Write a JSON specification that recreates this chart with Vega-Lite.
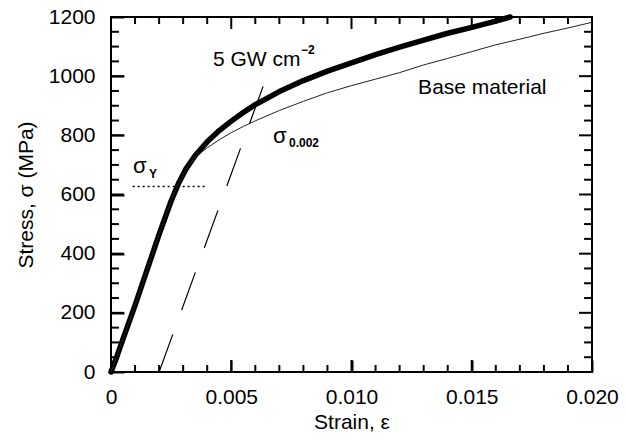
{
  "$schema": "https://vega.github.io/schema/vega-lite/v6.json",
  "autosize": {"type": "none"},
  "padding": {"left": 111, "top": 17, "right": 36, "bottom": 72},
  "width": 481,
  "height": 355,
  "background": "white",
  "config": {
    "view": {"stroke": "black", "strokeWidth": 2},
    "font": "Liberation Sans",
    "axis": {"zindex": 1, "grid": false, "domain": false, "ticks": true, "tickColor": "black", "tickWidth": 2, "tickOpacity": 1, "labelColor": "black", "titleColor": "black", "labelFont": "Liberation Sans", "titleFont": "Liberation Sans", "labelFontSize": 21, "titleFontSize": 21, "titleFontWeight": "normal", "labelOverlap": false, "labelFlush": false}
  },
  "datasets": {
    "laser": [
      {"strain": 0, "stress": 0}, {"strain": 0.0002, "stress": 42}, {"strain": 0.0005, "stress": 112},
      {"strain": 0.001, "stress": 225}, {"strain": 0.0015, "stress": 345}, {"strain": 0.002, "stress": 465},
      {"strain": 0.0025, "stress": 578}, {"strain": 0.0028, "stress": 636}, {"strain": 0.0031, "stress": 684},
      {"strain": 0.0035, "stress": 732}, {"strain": 0.004, "stress": 778}, {"strain": 0.0045, "stress": 816},
      {"strain": 0.005, "stress": 848}, {"strain": 0.0055, "stress": 877}, {"strain": 0.006, "stress": 904},
      {"strain": 0.007, "stress": 948}, {"strain": 0.008, "stress": 985}, {"strain": 0.009, "stress": 1017},
      {"strain": 0.01, "stress": 1045}, {"strain": 0.011, "stress": 1073}, {"strain": 0.012, "stress": 1098},
      {"strain": 0.013, "stress": 1122}, {"strain": 0.014, "stress": 1145}, {"strain": 0.015, "stress": 1165},
      {"strain": 0.016, "stress": 1186}, {"strain": 0.0166, "stress": 1200}
    ],
    "base": [
      {"strain": 0, "stress": 0}, {"strain": 0.001, "stress": 225}, {"strain": 0.002, "stress": 465},
      {"strain": 0.0025, "stress": 578}, {"strain": 0.0028, "stress": 636}, {"strain": 0.0031, "stress": 682},
      {"strain": 0.0035, "stress": 726}, {"strain": 0.004, "stress": 758}, {"strain": 0.0045, "stress": 785},
      {"strain": 0.005, "stress": 809}, {"strain": 0.0055, "stress": 830}, {"strain": 0.006, "stress": 849},
      {"strain": 0.007, "stress": 884}, {"strain": 0.008, "stress": 915}, {"strain": 0.009, "stress": 944},
      {"strain": 0.01, "stress": 968}, {"strain": 0.011, "stress": 990}, {"strain": 0.012, "stress": 1012},
      {"strain": 0.013, "stress": 1038}, {"strain": 0.014, "stress": 1060}, {"strain": 0.015, "stress": 1083},
      {"strain": 0.016, "stress": 1106}, {"strain": 0.017, "stress": 1125}, {"strain": 0.018, "stress": 1145},
      {"strain": 0.019, "stress": 1163}, {"strain": 0.02, "stress": 1182}
    ],
    "offset": [{"strain": 0.002, "stress": 0}, {"strain": 0.00633, "stress": 967}],
    "yield": [{"strain": 0.0009, "stress": 627}, {"strain": 0.0039, "stress": 627}],
    "xticks": [
      {"k": "b5", "strain": 0.005, "stress": 0}, {"k": "b5", "strain": 0.005, "stress": 40.6},
      {"k": "b10", "strain": 0.01, "stress": 0}, {"k": "b10", "strain": 0.01, "stress": 40.6},
      {"k": "b15", "strain": 0.015, "stress": 0}, {"k": "b15", "strain": 0.015, "stress": 40.6},
      {"k": "t5", "strain": 0.005, "stress": 1200}, {"k": "t5", "strain": 0.005, "stress": 1159.4},
      {"k": "t10", "strain": 0.01, "stress": 1200}, {"k": "t10", "strain": 0.01, "stress": 1159.4},
      {"k": "t15", "strain": 0.015, "stress": 1200}, {"k": "t15", "strain": 0.015, "stress": 1159.4},
      {"k": "b1", "strain": 0.001, "stress": 0}, {"k": "b1", "strain": 0.001, "stress": 23.7},
      {"k": "b2", "strain": 0.002, "stress": 0}, {"k": "b2", "strain": 0.002, "stress": 23.7},
      {"k": "b3", "strain": 0.003, "stress": 0}, {"k": "b3", "strain": 0.003, "stress": 23.7},
      {"k": "b4", "strain": 0.004, "stress": 0}, {"k": "b4", "strain": 0.004, "stress": 23.7},
      {"k": "b6", "strain": 0.006, "stress": 0}, {"k": "b6", "strain": 0.006, "stress": 23.7},
      {"k": "b7", "strain": 0.007, "stress": 0}, {"k": "b7", "strain": 0.007, "stress": 23.7},
      {"k": "b8", "strain": 0.008, "stress": 0}, {"k": "b8", "strain": 0.008, "stress": 23.7},
      {"k": "b9", "strain": 0.009, "stress": 0}, {"k": "b9", "strain": 0.009, "stress": 23.7},
      {"k": "b11", "strain": 0.011, "stress": 0}, {"k": "b11", "strain": 0.011, "stress": 23.7},
      {"k": "b12", "strain": 0.012, "stress": 0}, {"k": "b12", "strain": 0.012, "stress": 23.7},
      {"k": "b13", "strain": 0.013, "stress": 0}, {"k": "b13", "strain": 0.013, "stress": 23.7},
      {"k": "b14", "strain": 0.014, "stress": 0}, {"k": "b14", "strain": 0.014, "stress": 23.7},
      {"k": "b16", "strain": 0.016, "stress": 0}, {"k": "b16", "strain": 0.016, "stress": 23.7},
      {"k": "b17", "strain": 0.017, "stress": 0}, {"k": "b17", "strain": 0.017, "stress": 23.7},
      {"k": "b18", "strain": 0.018, "stress": 0}, {"k": "b18", "strain": 0.018, "stress": 23.7},
      {"k": "b19", "strain": 0.019, "stress": 0}, {"k": "b19", "strain": 0.019, "stress": 23.7},
      {"k": "t1", "strain": 0.001, "stress": 1200}, {"k": "t1", "strain": 0.001, "stress": 1176.3},
      {"k": "t2", "strain": 0.002, "stress": 1200}, {"k": "t2", "strain": 0.002, "stress": 1176.3},
      {"k": "t3", "strain": 0.003, "stress": 1200}, {"k": "t3", "strain": 0.003, "stress": 1176.3},
      {"k": "t4", "strain": 0.004, "stress": 1200}, {"k": "t4", "strain": 0.004, "stress": 1176.3},
      {"k": "t6", "strain": 0.006, "stress": 1200}, {"k": "t6", "strain": 0.006, "stress": 1176.3},
      {"k": "t7", "strain": 0.007, "stress": 1200}, {"k": "t7", "strain": 0.007, "stress": 1176.3},
      {"k": "t8", "strain": 0.008, "stress": 1200}, {"k": "t8", "strain": 0.008, "stress": 1176.3},
      {"k": "t9", "strain": 0.009, "stress": 1200}, {"k": "t9", "strain": 0.009, "stress": 1176.3},
      {"k": "t11", "strain": 0.011, "stress": 1200}, {"k": "t11", "strain": 0.011, "stress": 1176.3},
      {"k": "t12", "strain": 0.012, "stress": 1200}, {"k": "t12", "strain": 0.012, "stress": 1176.3},
      {"k": "t13", "strain": 0.013, "stress": 1200}, {"k": "t13", "strain": 0.013, "stress": 1176.3},
      {"k": "t14", "strain": 0.014, "stress": 1200}, {"k": "t14", "strain": 0.014, "stress": 1176.3},
      {"k": "t16", "strain": 0.016, "stress": 1200}, {"k": "t16", "strain": 0.016, "stress": 1176.3},
      {"k": "t17", "strain": 0.017, "stress": 1200}, {"k": "t17", "strain": 0.017, "stress": 1176.3},
      {"k": "t18", "strain": 0.018, "stress": 1200}, {"k": "t18", "strain": 0.018, "stress": 1176.3},
      {"k": "t19", "strain": 0.019, "stress": 1200}, {"k": "t19", "strain": 0.019, "stress": 1176.3}
    ],
    "yticks": [
      {"k": "l200", "stress": 200, "strain": 0}, {"k": "l200", "stress": 200, "strain": 0.00054},
      {"k": "l400", "stress": 400, "strain": 0}, {"k": "l400", "stress": 400, "strain": 0.00054},
      {"k": "l600", "stress": 600, "strain": 0}, {"k": "l600", "stress": 600, "strain": 0.00054},
      {"k": "l800", "stress": 800, "strain": 0}, {"k": "l800", "stress": 800, "strain": 0.00054},
      {"k": "l1000", "stress": 1000, "strain": 0}, {"k": "l1000", "stress": 1000, "strain": 0.00054},
      {"k": "r200", "stress": 200, "strain": 0.02}, {"k": "r200", "stress": 200, "strain": 0.01946},
      {"k": "r400", "stress": 400, "strain": 0.02}, {"k": "r400", "stress": 400, "strain": 0.01946},
      {"k": "r600", "stress": 600, "strain": 0.02}, {"k": "r600", "stress": 600, "strain": 0.01946},
      {"k": "r800", "stress": 800, "strain": 0.02}, {"k": "r800", "stress": 800, "strain": 0.01946},
      {"k": "r1000", "stress": 1000, "strain": 0.02}, {"k": "r1000", "stress": 1000, "strain": 0.01946},
      {"k": "l50", "stress": 50, "strain": 0}, {"k": "l50", "stress": 50, "strain": 0.00033},
      {"k": "l100", "stress": 100, "strain": 0}, {"k": "l100", "stress": 100, "strain": 0.00033},
      {"k": "l150", "stress": 150, "strain": 0}, {"k": "l150", "stress": 150, "strain": 0.00033},
      {"k": "l250", "stress": 250, "strain": 0}, {"k": "l250", "stress": 250, "strain": 0.00033},
      {"k": "l300", "stress": 300, "strain": 0}, {"k": "l300", "stress": 300, "strain": 0.00033},
      {"k": "l350", "stress": 350, "strain": 0}, {"k": "l350", "stress": 350, "strain": 0.00033},
      {"k": "l450", "stress": 450, "strain": 0}, {"k": "l450", "stress": 450, "strain": 0.00033},
      {"k": "l500", "stress": 500, "strain": 0}, {"k": "l500", "stress": 500, "strain": 0.00033},
      {"k": "l550", "stress": 550, "strain": 0}, {"k": "l550", "stress": 550, "strain": 0.00033},
      {"k": "l650", "stress": 650, "strain": 0}, {"k": "l650", "stress": 650, "strain": 0.00033},
      {"k": "l700", "stress": 700, "strain": 0}, {"k": "l700", "stress": 700, "strain": 0.00033},
      {"k": "l750", "stress": 750, "strain": 0}, {"k": "l750", "stress": 750, "strain": 0.00033},
      {"k": "l850", "stress": 850, "strain": 0}, {"k": "l850", "stress": 850, "strain": 0.00033},
      {"k": "l900", "stress": 900, "strain": 0}, {"k": "l900", "stress": 900, "strain": 0.00033},
      {"k": "l950", "stress": 950, "strain": 0}, {"k": "l950", "stress": 950, "strain": 0.00033},
      {"k": "l1050", "stress": 1050, "strain": 0}, {"k": "l1050", "stress": 1050, "strain": 0.00033},
      {"k": "l1100", "stress": 1100, "strain": 0}, {"k": "l1100", "stress": 1100, "strain": 0.00033},
      {"k": "l1150", "stress": 1150, "strain": 0}, {"k": "l1150", "stress": 1150, "strain": 0.00033},
      {"k": "r50", "stress": 50, "strain": 0.02}, {"k": "r50", "stress": 50, "strain": 0.01967},
      {"k": "r100", "stress": 100, "strain": 0.02}, {"k": "r100", "stress": 100, "strain": 0.01967},
      {"k": "r150", "stress": 150, "strain": 0.02}, {"k": "r150", "stress": 150, "strain": 0.01967},
      {"k": "r250", "stress": 250, "strain": 0.02}, {"k": "r250", "stress": 250, "strain": 0.01967},
      {"k": "r300", "stress": 300, "strain": 0.02}, {"k": "r300", "stress": 300, "strain": 0.01967},
      {"k": "r350", "stress": 350, "strain": 0.02}, {"k": "r350", "stress": 350, "strain": 0.01967},
      {"k": "r450", "stress": 450, "strain": 0.02}, {"k": "r450", "stress": 450, "strain": 0.01967},
      {"k": "r500", "stress": 500, "strain": 0.02}, {"k": "r500", "stress": 500, "strain": 0.01967},
      {"k": "r550", "stress": 550, "strain": 0.02}, {"k": "r550", "stress": 550, "strain": 0.01967},
      {"k": "r650", "stress": 650, "strain": 0.02}, {"k": "r650", "stress": 650, "strain": 0.01967},
      {"k": "r700", "stress": 700, "strain": 0.02}, {"k": "r700", "stress": 700, "strain": 0.01967},
      {"k": "r750", "stress": 750, "strain": 0.02}, {"k": "r750", "stress": 750, "strain": 0.01967},
      {"k": "r850", "stress": 850, "strain": 0.02}, {"k": "r850", "stress": 850, "strain": 0.01967},
      {"k": "r900", "stress": 900, "strain": 0.02}, {"k": "r900", "stress": 900, "strain": 0.01967},
      {"k": "r950", "stress": 950, "strain": 0.02}, {"k": "r950", "stress": 950, "strain": 0.01967},
      {"k": "r1050", "stress": 1050, "strain": 0.02}, {"k": "r1050", "stress": 1050, "strain": 0.01967},
      {"k": "r1100", "stress": 1100, "strain": 0.02}, {"k": "r1100", "stress": 1100, "strain": 0.01967},
      {"k": "r1150", "stress": 1150, "strain": 0.02}, {"k": "r1150", "stress": 1150, "strain": 0.01967}
    ],
    "ann": [
      {"t": "5 GW cm", "strain": 0.00424, "stress": 1034},
      {"t": "Base material", "strain": 0.01277, "stress": 940}
    ],
    "sigma": [
      {"t": "σ", "strain": 0.00091, "stress": 673},
      {"t": "σ", "strain": 0.00674, "stress": 774}
    ],
    "annsub": [
      {"t": "−2", "strain": 0.0079, "stress": 1075},
      {"t": "Y", "strain": 0.00158, "stress": 656},
      {"t": "0.002", "strain": 0.0074, "stress": 761}
    ]
  },
  "resolve": {"axis": {"x": "independent", "y": "independent"}},
  "layer": [
    {
      "data": {"name": "laser"},
      "mark": {"type": "line", "color": "black", "strokeWidth": 5.5, "strokeCap": "round", "strokeJoin": "round"},
      "encoding": {
        "x": {"field": "strain", "type": "quantitative", "scale": {"domain": [0, 0.02], "nice": false, "zero": false},
          "axis": {"orient": "bottom", "offset": -12, "tickSize": 12, "title": "Strain, ε", "titleY": 68, "titleBaseline": "alphabetic",
            "values": [0, 0.005, 0.01, 0.015, 0.02],
            "labelExpr": "datum.value == 0 ? '0' : format(datum.value, '.3f')",
            "labelBaseline": "alphabetic", "labelPadding": 31}},
        "y": {"field": "stress", "type": "quantitative", "scale": {"domain": [0, 1200], "nice": false},
          "axis": {"orient": "left", "offset": -13, "tickSize": 13, "title": "Stress, σ (MPa)", "titleX": -92, "titleY": 177.5, "titleBaseline": "alphabetic", "titleAngle": -90,
            "values": [0, 200, 400, 600, 800, 1000, 1200],
            "labelExpr": "format(datum.value, 'd')",
            "labelPadding": 16}}
      }
    },
    {
      "data": {"name": "base"},
      "mark": {"type": "line", "color": "#222222", "strokeWidth": 1},
      "encoding": {
        "x": {"field": "strain", "type": "quantitative", "axis": null},
        "y": {"field": "stress", "type": "quantitative", "axis": null}
      }
    },
    {
      "data": {"name": "offset"},
      "mark": {"type": "line", "color": "black", "strokeWidth": 1.2, "strokeDash": [40, 26]},
      "encoding": {
        "x": {"field": "strain", "type": "quantitative", "axis": null},
        "y": {"field": "stress", "type": "quantitative", "axis": null}
      }
    },
    {
      "data": {"name": "yield"},
      "mark": {"type": "line", "color": "black", "strokeWidth": 1.5, "strokeDash": [2, 3]},
      "encoding": {
        "x": {"field": "strain", "type": "quantitative", "axis": null},
        "y": {"field": "stress", "type": "quantitative", "axis": null}
      }
    },
    {
      "data": {"name": "xticks"},
      "mark": {"type": "line", "color": "black", "strokeWidth": 2, "strokeCap": "butt"},
      "encoding": {
        "x": {"field": "strain", "type": "quantitative", "axis": null},
        "y": {"field": "stress", "type": "quantitative", "axis": null},
        "detail": {"field": "k", "type": "nominal"}
      }
    },
    {
      "data": {"name": "yticks"},
      "mark": {"type": "line", "color": "black", "strokeWidth": 2, "strokeCap": "butt"},
      "encoding": {
        "x": {"field": "strain", "type": "quantitative", "axis": null},
        "y": {"field": "stress", "type": "quantitative", "axis": null},
        "detail": {"field": "k", "type": "nominal"}
      }
    },
    {
      "data": {"name": "ann"},
      "mark": {"type": "text", "align": "left", "baseline": "alphabetic", "fontSize": 21, "font": "Liberation Sans", "color": "black"},
      "encoding": {
        "x": {"field": "strain", "type": "quantitative", "axis": null},
        "y": {"field": "stress", "type": "quantitative", "axis": null},
        "text": {"field": "t"}
      }
    },
    {
      "data": {"name": "sigma"},
      "mark": {"type": "text", "align": "left", "baseline": "alphabetic", "fontSize": 22, "font": "Liberation Sans", "color": "black"},
      "encoding": {
        "x": {"field": "strain", "type": "quantitative", "axis": null},
        "y": {"field": "stress", "type": "quantitative", "axis": null},
        "text": {"field": "t"}
      }
    },
    {
      "data": {"name": "annsub"},
      "mark": {"type": "text", "align": "left", "baseline": "alphabetic", "fontSize": 12, "fontWeight": "bold", "font": "Liberation Sans", "color": "black"},
      "encoding": {
        "x": {"field": "strain", "type": "quantitative", "axis": null},
        "y": {"field": "stress", "type": "quantitative", "axis": null},
        "text": {"field": "t"}
      }
    }
  ]
}
